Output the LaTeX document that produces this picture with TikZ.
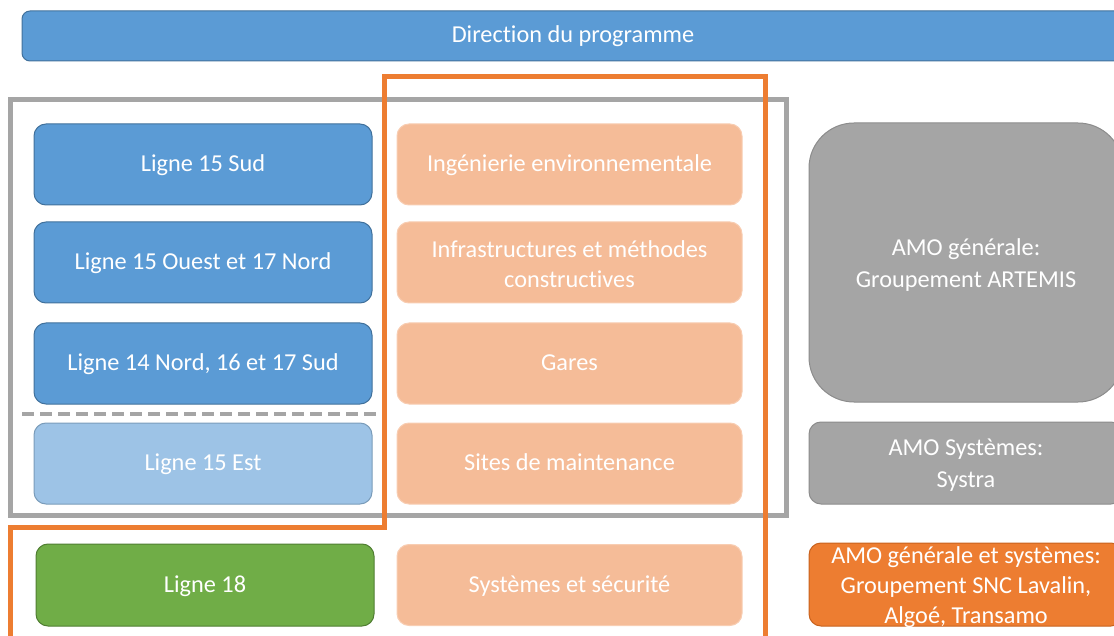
\documentclass[tikz,border=0pt]{standalone}
\usepackage{fontspec}
\setmainfont[Ligatures={NoCommon}]{Carlito}
\definecolor{blueF}{HTML}{5B9BD5}
\definecolor{blueD}{HTML}{41719C}
\definecolor{lblue}{HTML}{9DC3E6}
\definecolor{greenF}{HTML}{70AD47}
\definecolor{greenD}{HTML}{507E32}
\definecolor{peach}{HTML}{F5BC98}
\definecolor{grayF}{HTML}{A5A5A5}
\definecolor{grayD}{HTML}{8C8C8C}
\definecolor{orangeF}{HTML}{ED7D31}
\definecolor{orangeD}{HTML}{C8621E}
\begin{document}
\begin{tikzpicture}[x=1pt,y=-1pt,
  every node/.style={font=\fontsize{24.3}{30}\selectfont, text=white, align=center, inner sep=0pt},
  one/.style={text height=19pt, text depth=5pt},
  base/.style={rounded corners=12pt, line width=1pt},
  bluebox/.style={base, one, fill=blueF, draw=blueD, minimum width=338pt, minimum height=81pt},
  lbluebox/.style={base, one, fill=lblue, draw=blueD!70, minimum width=338pt, minimum height=81pt},
  greenbox/.style={base, one, fill=greenF, draw=greenD, minimum width=338pt, minimum height=82pt},
  peachbox/.style={base, fill=peach, draw=peach!75!white, minimum width=345pt, minimum height=81pt},
  graybox/.style={base, fill=grayF, draw=grayD, minimum width=314pt},
  orangebox/.style={base, fill=orangeF, draw=orangeD, minimum width=314pt, minimum height=83pt},
  frame/.style={line width=5pt}
]
\useasboundingbox (0,0) rectangle (1114,636);
% top bar
\node[base, one, rounded corners=8pt, fill=blueF, draw=blueD, minimum width=1102pt, minimum height=50pt] (dir) at (573,36) {Direction du programme};
% left column
\node[bluebox] (l15s) at (203,164.5) {Ligne 15 Sud};
\node[bluebox] (l15o) at (203,262.5) {Ligne 15 Ouest et 17 Nord};
\node[bluebox] (l14) at (203,363.5) {Ligne 14 Nord, 16 et 17 Sud};
\node[lbluebox] (l15e) at (203,463.5) {Ligne 15 Est};
\node[greenbox] (l18) at (205,585) {Ligne 18};
% middle column
\node[peachbox, one] (ing) at (569.5,164.5) {Ingénierie environnementale};
\node[peachbox] (inf) at (569.5,262.5) {};
\node (inft) at (569.5,264) {Infrastructures et méthodes\\constructives};
\node[peachbox, one] (gar) at (569.5,363.5) {Gares};
\node[peachbox, one] (sit) at (569.5,463.5) {Sites de maintenance};
\node[peachbox, one] (sys) at (569.5,585) {Systèmes et sécurité};
% right column
\node[graybox, rounded corners=45pt, minimum height=279pt] (art) at (966,262.5) {};
\node[font=\fontsize{24.3}{32}\selectfont] (artt) at (966,265) {AMO générale:\\Groupement ARTEMIS};
\node[graybox, minimum height=82pt] (systra) at (966,463) {};
\node[font=\fontsize{24.3}{32}\selectfont] (systrat) at (966,465.5) {AMO Systèmes:\\Systra};
\node[orangebox] (snc) at (966,584.5) {};
\node (snct) at (966,587.5) {AMO générale et systèmes:\\Groupement SNC Lavalin,\\Algoé, Transamo};
% frames
\coordinate (dl) at (22,414);
\coordinate (dr) at (384,414);
\draw[grayF, line width=4pt, dash pattern=on 12pt off 6pt] (dl) -- (dr);
\draw[grayF, frame] (10,100) rectangle (786,515);
\draw[orangeF, frame] (384,527) -- (384,77) -- (765,77) -- (765,645) -- (10,645) -- (10,527) -- cycle;
\end{tikzpicture}
\end{document}
